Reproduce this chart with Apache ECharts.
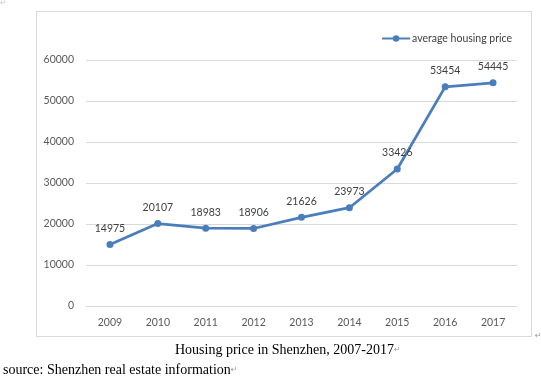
<!DOCTYPE html>
<html><head><meta charset="utf-8">
<script src="https://cdn.jsdelivr.net/npm/echarts@6/dist/echarts.min.js"></script>
<style>html,body{margin:0;padding:0;background:#fff}#c{width:541px;height:382px}</style>
</head><body><div id="c"></div>
<script>
var years = ['2009','2010','2011','2012','2013','2014','2015','2016','2017'];
var prices = [14975, 20107, 18983, 18906, 21626, 23973, 33426, 53454, 54445];
var seriesName = 'average housing price';
var captionText = 'Housing price in Shenzhen, 2007-2017';
var sourceText = 'source: Shenzhen real estate information';

var chart = echarts.init(document.getElementById('c'), null, {renderer:'canvas'});
var sans = 'Lato, "Open Sans", sans-serif';
var serif = '"Liberation Serif", serif';
chart.setOption({
  animation:false,
  backgroundColor:'#fff',
  grid:{left:86, right:24, top:60, bottom:76},
  legend:{
    data:[seriesName], right:24, top:28, itemWidth:28, itemHeight:8,
    textStyle:{color:'#404040', fontSize:10.5, fontFamily:sans, padding:[0,0,0,-3]}
  },
  xAxis:{
    type:'category', data:years, boundaryGap:true,
    axisLine:{show:true, lineStyle:{color:'#d9d9d9'}}, axisTick:{show:false},
    axisLabel:{color:'#595959', fontSize:10.5, fontFamily:sans, margin:11}
  },
  yAxis:{
    type:'value', min:0, max:60000, interval:10000,
    axisLine:{show:false}, axisTick:{show:false},
    splitLine:{lineStyle:{color:'#d9d9d9'}},
    axisLabel:{color:'#595959', fontSize:10.5, fontFamily:sans, margin:12,
      formatter:function(v){return String(v);}}
  },
  series:[{
    name:seriesName, type:'line', data:prices,
    symbol:'circle', symbolSize:7,
    lineStyle:{color:'#4a7ebb', width:2.75},
    itemStyle:{color:'#4a7ebb'},
    label:{show:true, position:'top', distance:7, color:'#404040', fontSize:10.5, fontFamily:sans}
  }],
  graphic:[
    {type:'rect', shape:{x:36.5, y:11.5, width:495, height:325}, style:{fill:'none', stroke:'#d9d9d9', lineWidth:1}, z:-1},
    {type:'text', x:175, y:350, style:{text:captionText + '{m|↵}', font:'14px ' + serif, fill:'#000', verticalAlign:'middle',
      rich:{m:{fontSize:8, fill:'#999', fontFamily:'DejaVu Sans'}}}},
    {type:'text', x:3, y:370, style:{text:sourceText + '{m|↵}', font:'14px ' + serif, fill:'#000', verticalAlign:'middle',
      rich:{m:{fontSize:8, fill:'#999', fontFamily:'DejaVu Sans'}}}},
    {type:'text', x:0, y:0, style:{text:'↵', font:'7px "DejaVu Sans"', fill:'#bbb'}},
    {type:'text', x:535, y:332, style:{text:'↵', font:'8px "DejaVu Sans"', fill:'#999'}}
  ]
});
</script></body></html>
